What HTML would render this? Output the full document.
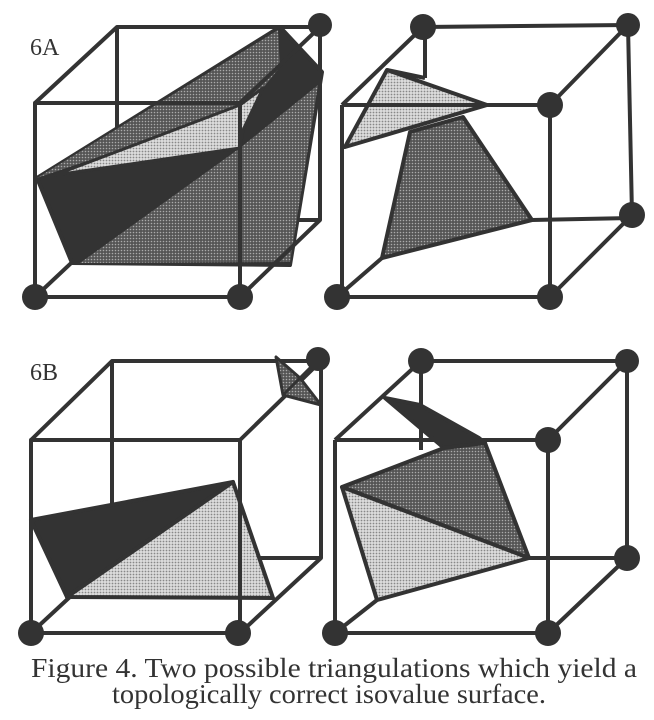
<!DOCTYPE html>
<html><head><meta charset="utf-8"><style>html,body{margin:0;padding:0;background:#fff}svg{display:block}</style></head>
<body>
<svg width="654" height="720" viewBox="0 0 654 720" xmlns="http://www.w3.org/2000/svg">
<defs>
<pattern id="dm" width="3" height="3" patternUnits="userSpaceOnUse"><rect width="3" height="3" fill="#555"/><circle cx="1.5" cy="1.5" r="0.8" fill="#aaa"/></pattern>
<pattern id="dl" width="3" height="3" patternUnits="userSpaceOnUse"><rect width="3" height="3" fill="#ddd"/><circle cx="1.5" cy="1.5" r="0.9" fill="#888"/></pattern>
</defs>
<g stroke="#333" stroke-width="4" stroke-linejoin="round" fill="none">
<!-- Cube A1 -->
<polyline points="117,220 320,220"/>
<line x1="117" y1="27" x2="117" y2="220"/>
<polygon points="37,178 280,27 322,72 290,265 72,263" fill="#333"/>
<polygon points="80,263 240,148 318,85 290,262" fill="url(#dm)" stroke="none"/>
<polygon points="37,178 278,30 280,67 263,88 240,105 90,160" fill="url(#dm)" stroke="none"/>
<polygon points="55,175 240,105 263,88 243,130 240,148" fill="url(#dl)" stroke="#333" stroke-width="3"/>
<rect x="35" y="103" width="205" height="194"/>
<polyline points="35,103 117,27 320,27 320,220 240,297"/>
<line x1="240" y1="103" x2="320" y2="27"/>
<line x1="35" y1="297" x2="117" y2="220"/>
<!-- Cube A2 -->
<line x1="425" y1="27" x2="425" y2="78"/>
<line x1="342" y1="105" x2="423" y2="27"/>
<polygon points="345,147 387,70 487,105" fill="url(#dl)"/>
<line x1="387" y1="70" x2="425" y2="78"/>
<polygon points="410,132 463,117 532,220 382,258" fill="url(#dm)"/>
<line x1="382" y1="258" x2="337" y2="297"/>
<line x1="342" y1="105" x2="550" y2="105"/>
<line x1="342" y1="105" x2="342" y2="297"/>
<polyline points="337,297 550,297 550,105"/>
<polyline points="423,27 628,25 632,215 550,297"/>
<line x1="550" y1="105" x2="628" y2="25"/>
<line x1="532" y1="220" x2="632" y2="218"/>
<!-- Cube B1 -->
<line x1="112" y1="361" x2="112" y2="558"/>
<line x1="112" y1="558" x2="321" y2="558"/>
<line x1="31" y1="633" x2="112" y2="558"/>
<polygon points="31,520 233,482 67,597" fill="#333"/>
<polygon points="233,482 273,598 67,597" fill="url(#dl)"/>
<rect x="31" y="440" width="209" height="193"/>
<polyline points="31,440 112,361 321,361 321,558 240,633"/>
<line x1="240" y1="440" x2="321" y2="361"/>
<polygon points="276,357 283,395 321,405 300,378" fill="url(#dm)" stroke-width="3"/>
<line x1="283" y1="395" x2="318" y2="360" stroke-width="3"/>
<!-- Cube B2 -->
<line x1="421" y1="361" x2="421" y2="450"/>
<line x1="335" y1="440" x2="421" y2="361"/>
<polygon points="385,398 420,405 479,438 485,443 444,448" fill="#333"/>
<polygon points="342,487 444,448 485,443 529,558" fill="url(#dm)"/>
<polygon points="342,487 529,558 377,600" fill="url(#dl)"/>
<line x1="377" y1="600" x2="335" y2="633"/>
<line x1="335" y1="440" x2="548" y2="440"/>
<line x1="335" y1="440" x2="335" y2="633"/>
<polyline points="335,633 548,633 548,440"/>
<polyline points="421,361 627,361 627,558 548,633"/>
<line x1="548" y1="440" x2="627" y2="361"/>
<line x1="529" y1="558" x2="627" y2="558"/>
</g>
<g fill="#333">
<circle cx="35" cy="297" r="13"/><circle cx="240" cy="297" r="13"/><circle cx="320" cy="25" r="12"/>
<circle cx="337" cy="297" r="13"/><circle cx="550" cy="297" r="13"/><circle cx="550" cy="105" r="13"/>
<circle cx="423" cy="27" r="13"/><circle cx="628" cy="25" r="12"/><circle cx="632" cy="215" r="13"/>
<circle cx="31" cy="633" r="13"/><circle cx="238" cy="633" r="13"/><circle cx="318" cy="359" r="12"/>
<circle cx="335" cy="633" r="13"/><circle cx="548" cy="633" r="13"/><circle cx="548" cy="440" r="13"/>
<circle cx="421" cy="361" r="13"/><circle cx="627" cy="361" r="12"/><circle cx="627" cy="558" r="13"/>
</g>
<g font-family="Liberation Serif, serif" fill="#333">
<text x="30" y="55" font-size="24">6A</text>
<text x="30" y="380" font-size="24">6B</text>
<text x="31" y="677" font-size="27" textLength="606" lengthAdjust="spacingAndGlyphs">Figure 4.  Two possible triangulations which yield a</text>
<text x="112" y="703" font-size="27" textLength="434" lengthAdjust="spacingAndGlyphs">topologically correct isovalue surface.</text>
</g>
</svg>
</body></html>
